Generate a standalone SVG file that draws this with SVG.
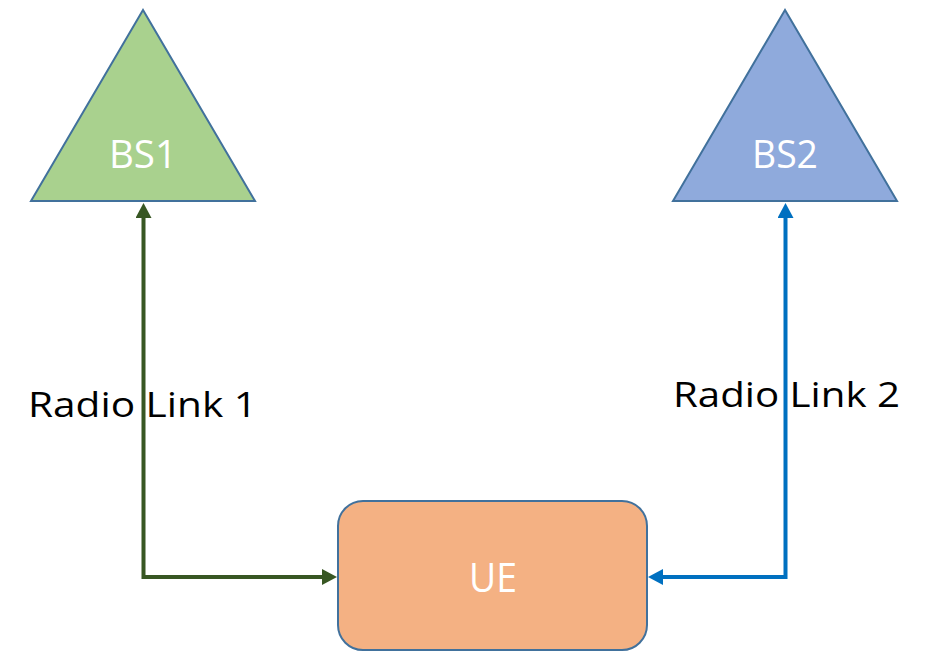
<svg xmlns="http://www.w3.org/2000/svg" width="927" height="653" viewBox="0 0 927 653">
  <style>
    .shape { stroke: #41719C; stroke-width: 2; }
    .lbl { font-family: "Open Sans", "Liberation Sans", sans-serif; fill: #FFFFFF; }
    .link { font-family: "Open Sans", "Liberation Sans", sans-serif; fill: #000000; }
    .conn { fill: none; stroke-width: 4; stroke-linejoin: miter; }
  </style>
  <defs>
    <marker id="arrGreen" markerUnits="userSpaceOnUse" markerWidth="15" markerHeight="16" refX="0" refY="8" orient="auto-start-reverse" viewBox="0 0 15 16">
      <path d="M0,0 L15,8 L0,16 Z" fill="#385723"/>
    </marker>
    <marker id="arrBlue" markerUnits="userSpaceOnUse" markerWidth="15" markerHeight="16" refX="0" refY="8" orient="auto-start-reverse" viewBox="0 0 15 16">
      <path d="M0,0 L15,8 L0,16 Z" fill="#0070C0"/>
    </marker>
  </defs>
  <rect width="927" height="653" fill="#FFFFFF"/>

  <g id="connectors">
    <path class="conn" stroke="#385723" d="M143.5,218 V577 H322" marker-start="url(#arrGreen)" marker-end="url(#arrGreen)"/>
    <path class="conn" stroke="#0070C0" d="M785.5,218 V577 H663" marker-start="url(#arrBlue)" marker-end="url(#arrBlue)"/>
  </g>

  <g id="BS1">
    <polygon class="shape" points="143,10 31,201 255,201" fill="#A9D18E"/>
    <text class="lbl" x="143" y="168" font-size="39" text-anchor="middle" textLength="68" lengthAdjust="spacingAndGlyphs">BS1</text>
  </g>

  <g id="BS2">
    <polygon class="shape" points="785,10 673,201 897,201" fill="#8FAADC"/>
    <text class="lbl" x="785" y="168" font-size="39" text-anchor="middle" textLength="66" lengthAdjust="spacingAndGlyphs">BS2</text>
  </g>

  <g id="UE">
    <rect class="shape" x="338" y="501" width="309" height="149" rx="25" ry="25" fill="#F4B183"/>
    <text class="lbl" x="493" y="592" font-size="41" text-anchor="middle" textLength="48" lengthAdjust="spacingAndGlyphs">UE</text>
  </g>

  <g id="labels">
    <text class="link" x="28" y="417" font-size="35" textLength="229" lengthAdjust="spacingAndGlyphs">Radio Link 1</text>
    <text class="link" x="673" y="407" font-size="35" textLength="227" lengthAdjust="spacingAndGlyphs">Radio Link 2</text>
  </g>
</svg>
